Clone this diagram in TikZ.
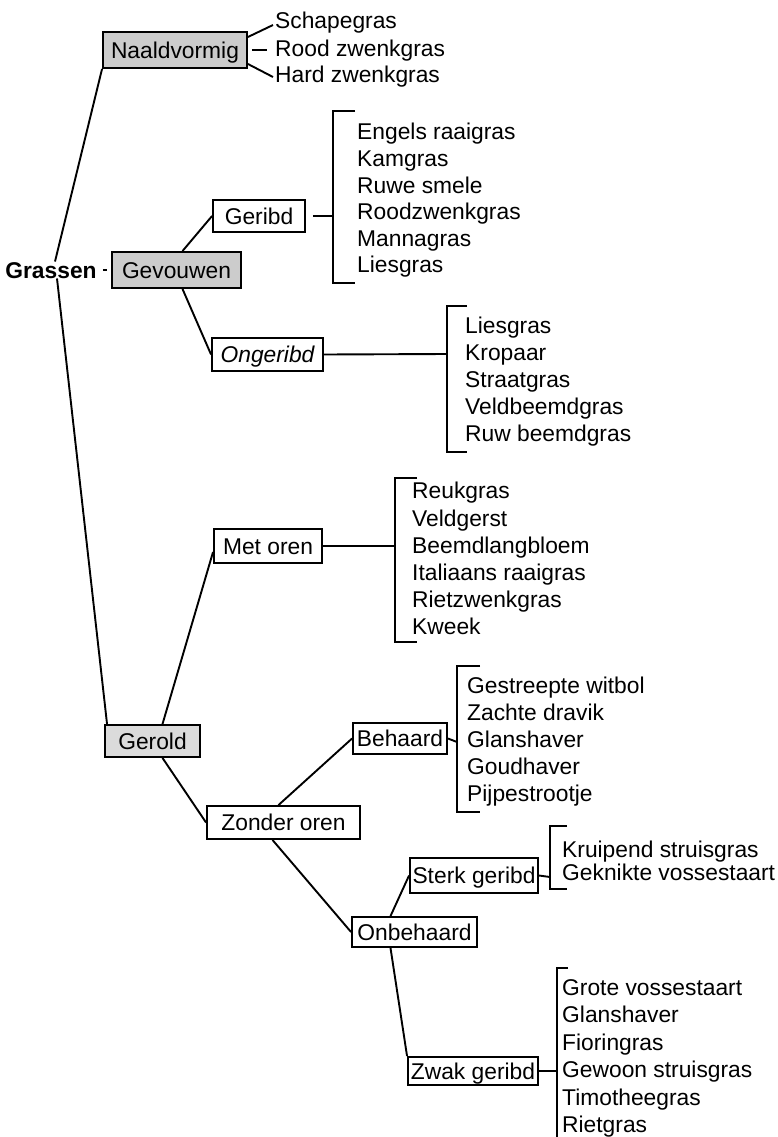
\documentclass[tikz,border=0pt]{standalone}
\usepackage{fontspec}
\setmainfont{Liberation Sans}
\begin{document}
\begin{tikzpicture}[x=1pt,y=-1pt,
  every node/.style={font=\fontsize{22.8}{27}\selectfont,text height=16.5pt,text depth=0pt},
  ln/.style={line width=1.9pt},
  box/.style={draw,line width=1.9pt,inner sep=0pt,minimum width=#1},
  shade/.style={fill=black!20},
  item/.style={anchor=west,inner sep=0pt}]
\useasboundingbox (0,0) rectangle (777,1137);
% main nodes
\node[inner sep=0pt,font=\fontsize{22.8}{27}\selectfont\bfseries] (grassen) at (51,270) {Grassen};
\node[box=144,shade,minimum height=36] (naald) at (175,50) {Naaldvormig};
\node[box=129,shade,minimum height=36] (gevouwen) at (176.5,270) {Gevouwen};
\node[box=92,minimum height=32] (geribd) at (259,216) {Geribd};
\node[box=111,minimum height=33,font=\fontsize{22.8}{27}\selectfont\itshape] (ongeribd) at (267.5,354.5) {Ongeribd};
\node[box=95,shade,fill=black!14,minimum height=32] (gerold) at (152.5,741) {Gerold};
\node[box=108,minimum height=34] (metoren) at (268,546) {Met oren};
\node[box=153,minimum height=33] (zonder) at (283.5,822.5) {Zonder oren};
\node[box=94,minimum height=31] (behaard) at (400,738.5) {Behaard};
\node[box=125,minimum height=30] (onbehaard) at (414.5,932) {Onbehaard};
\node[box=128,minimum height=35] (sterk) at (474,875.5) {Sterk geribd};
\node[box=130,minimum height=28] (zwak) at (473,1071) {Zwak geribd};
% tree connectors
\draw[ln] ([xshift=4pt]grassen.north) -- (naald.south west);
\draw[ln] ([xshift=6pt]grassen.south) -- ([xshift=3pt]gerold.north west);
\draw[ln] ([xshift=6pt]grassen.east) -- ([xshift=-4pt]gevouwen.west);
\draw[ln] ([xshift=6pt]gevouwen.north) -- (geribd.west);
\draw[ln] ([xshift=6pt]gevouwen.south) -- (ongeribd.west);
\draw[ln] ([xshift=10pt]gerold.north) -- ([yshift=-6pt]metoren.west);
\draw[ln] ([xshift=10pt]gerold.south) -- (zonder.west);
\draw[ln] ([xshift=-5pt]zonder.north) -- (behaard.west);
\draw[ln] ([xshift=-11pt]zonder.south) -- (onbehaard.west);
\draw[ln] ([xshift=-24pt]onbehaard.north) -- (sterk.west);
\draw[ln] ([xshift=-24pt]onbehaard.south) -- (zwak.north west);
% Naaldvormig items
\node[item] (n1) at (275,20) {Schapegras};
\node[item] (n2) at (275,48) {Rood zwenkgras};
\node[item] (n3) at (275,74) {Hard zwenkgras};
\draw[ln] ([yshift=13pt]naald.east) -- ([xshift=-2pt,yshift=-5pt]n1.west);
\draw[ln] ([xshift=4pt]naald.east) -- ([xshift=-8pt,yshift=-2pt]n2.west);
\draw[ln] ([yshift=-14pt]naald.east) -- ([xshift=-2pt,yshift=-3pt]n3.west);
% Geribd bracket
\coordinate (bg) at (333,216);
\draw[ln] (355,111) -- (333,111) -- (333,283) -- (355,283);
\draw[ln] ([xshift=7pt]geribd.east) -- (bg);
\foreach \t [count=\i] in {Engels raaigras,Kamgras,Ruwe smele,Roodzwenkgras,Mannagras,Liesgras}
  \node[item] (g\i) at (357,105+26.6*\i) {\t};
% Ongeribd bracket
\coordinate (bo) at (447,354);
\draw[ln] (467,306) -- (447,306) -- (447,452) -- (467,452);
\draw[ln] (ongeribd.east) -- (bo);
\foreach \t [count=\i] in {Liesgras,Kropaar,Straatgras,Veldbeemdgras,Ruw beemdgras}
  \node[item] (o\i) at (465,298+27*\i) {\t};
% Met oren bracket
\coordinate (bm) at (395,546);
\draw[ln] (417,478) -- (395,478) -- (395,642) -- (417,642);
\draw[ln] (metoren.east) -- (bm);
\foreach \t [count=\i] in {Reukgras,Veldgerst,Beemdlangbloem,Italiaans raaigras,Rietzwenkgras,Kweek}
  \node[item] (m\i) at (412,463.5+27.2*\i) {\t};
% Behaard bracket
\coordinate (bb) at (457,742);
\draw[ln] (480,666) -- (457,666) -- (457,812) -- (480,812);
\draw[ln] (behaard.east) -- (bb);
\foreach \t [count=\i] in {Gestreepte witbol,Zachte dravik,Glanshaver,Goudhaver,Pijpestrootje}
  \node[item] (b\i) at (467,658+27*\i) {\t};
% Sterk geribd bracket
\coordinate (bs) at (550,877);
\draw[ln] (567,826) -- (550,826) -- (550,889) -- (567,889);
\draw[ln] (sterk.east) -- (bs);
\node[item] (s1) at (562,849) {Kruipend struisgras};
\node[item] (s2) at (562,872) {Geknikte vossestaart};
% Zwak geribd bracket
\coordinate (bz) at (557,1071);
\draw[ln] (568,968) -- (557,968) -- (557,1137);
\draw[ln] (zwak.east) -- (bz);
\foreach \t [count=\i] in {Grote vossestaart,Glanshaver,Fioringras,Gewoon struisgras,Timotheegras,Rietgras}
  \node[item] (z\i) at (562,959.5+27.5*\i) {\t};
\end{tikzpicture}
\end{document}
